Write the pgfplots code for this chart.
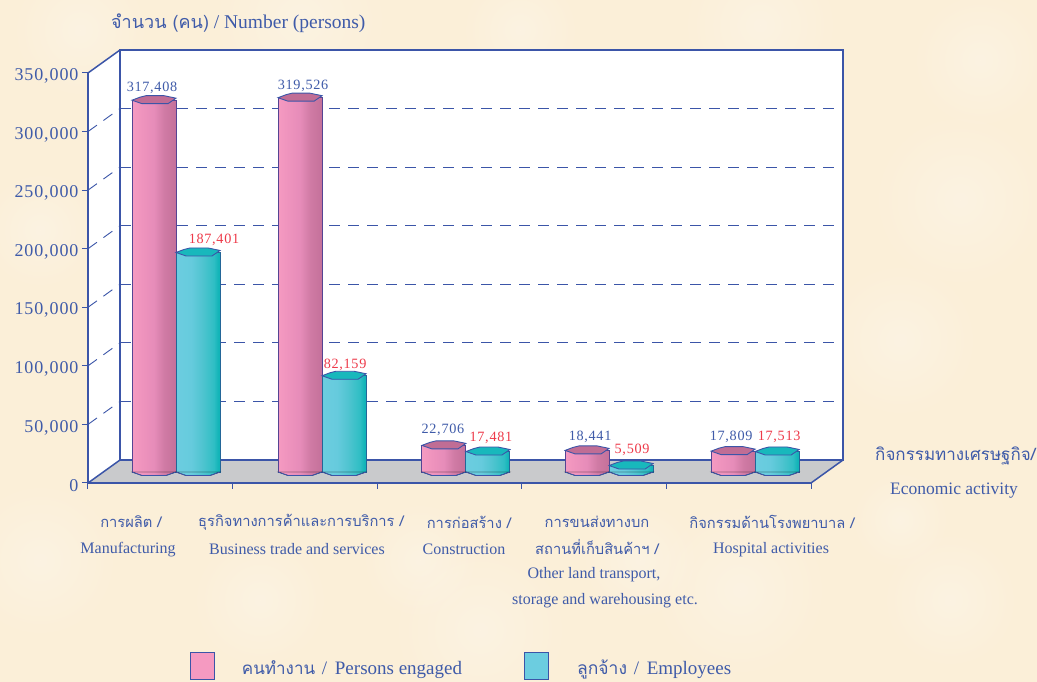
\documentclass[border=0pt]{standalone}
\usepackage{fontspec}
\usepackage{pgfplots}
\usepackage{pgfplotstable}
\pgfplotsset{compat=1.18}
\usetikzlibrary{fadings}
\setmainfont{Liberation Serif}
\newfontfamily\thaifont[Script=Thai]{Loma}
\newfontfamily\numfont[LetterSpace=5]{Liberation Serif}
\definecolor{bg}{HTML}{FBEFD8}
\definecolor{ax}{HTML}{3B55A8}
\definecolor{tx}{HTML}{3F5BA9}
\definecolor{rd}{HTML}{EE3A4A}
\definecolor{flr}{HTML}{C9CACC}
\definecolor{pk}{HTML}{F59AC1}
\definecolor{cy}{HTML}{6CCDE0}
\definecolor{pa}{HTML}{F59AC1}
\definecolor{pb}{HTML}{EE93BD}
\definecolor{pc}{HTML}{E68CB9}
\definecolor{pd}{HTML}{CF7AA4}
\definecolor{pe}{HTML}{C4719A}
\definecolor{ca}{HTML}{6CCDE0}
\definecolor{cb}{HTML}{66CBDD}
\definecolor{cc}{HTML}{4FC4D0}
\definecolor{cd}{HTML}{2FBEC4}
\definecolor{ce}{HTML}{12B4B8}
\tikzfading[name=blob,inner color=transparent!0,outer color=transparent!100]
\pgfdeclarehorizontalshading{pinkbar}{100bp}{color(0bp)=(pa);color(25bp)=(pa);color(37bp)=(pb);color(50bp)=(pc);color(62bp)=(pd);color(75bp)=(pe);color(100bp)=(pe)}
\pgfdeclarehorizontalshading{cyanbar}{100bp}{color(0bp)=(ca);color(25bp)=(ca);color(42bp)=(cb);color(55bp)=(cc);color(68bp)=(cd);color(73bp)=(ce);color(75bp)=(ce);color(100bp)=(ce)}
\pgfdeclareplotmark{pinktop}{%
  \path[fill={rgb,255:red,192;green,109;blue,149},draw=ax,line width=.9pt] (-44pt,0pt)--(-36pt,3pt)--(-30pt,4.5pt)--(-12pt,4.5pt)--(0pt,2pt)--(-8pt,-3.5pt)--(-34pt,-3.5pt)--cycle;}
\pgfdeclareplotmark{cyantop}{%
  \path[fill={rgb,255:red,24;green,184;blue,188},draw=ax,line width=.9pt] (0pt,0pt)--(8pt,3pt)--(14pt,4.5pt)--(32pt,4.5pt)--(44pt,2pt)--(36pt,-3.5pt)--(10pt,-3.5pt)--cycle;}
\pgfdeclareplotmark{pinkbot}{%
  \path[shading=pinkbar] (-44pt,0pt)--(-34pt,-3.5pt)--(-10pt,-3.5pt)--(0pt,0pt)--cycle;
  \draw[ax,line width=.9pt] (-44pt,0pt)--(-34pt,-3.5pt)--(-10pt,-3.5pt)--(0pt,0pt);}
\pgfdeclareplotmark{cyanbot}{%
  \path[shading=cyanbar] (0pt,0pt)--(10pt,-3.5pt)--(34pt,-3.5pt)--(44pt,0pt)--cycle;
  \draw[ax,line width=.9pt] (0pt,0pt)--(10pt,-3.5pt)--(34pt,-3.5pt)--(44pt,0pt);}
\pgfplotstableread{
x y dx dy
0 317408 -24 12
1.01 319526 -19 12
2.005 22706 -23 16
2.995 18441 -19 14
4.005 17809 -24 14
}\pinktable
\pgfplotstableread{
x y dx dy
0 187401 38 13
1.01 82159 23 11
2.005 17481 25 14
2.995 5509 23 16
4.005 17513 24 15
}\cyantable
\pgfplotsset{
  pinkb/.style={ybar,forget plot,bar width=44pt,bar shift=-22pt,shading=pinkbar,draw=ax!80!purple,line width=.9pt},
  cyanb/.style={ybar,forget plot,bar width=44pt,bar shift=22pt,shading=cyanbar,draw=ax!60!teal,line width=.9pt}}
\newcommand{\lb}[4][16pt]{\node[text=tx,inner sep=0pt,anchor=center,font=\fontsize{#1}{#1}\selectfont] at (#2,#3) {#4};}
\newcommand{\tl}[3]{\node[text=tx,inner sep=0pt,anchor=center,font=\fontsize{14.7pt}{15pt}\selectfont\thaifont] at (#1,#2) {#3};}
\begin{document}
\begin{tikzpicture}
\useasboundingbox (0,0) rectangle (1037pt,682pt);
\fill[bg] (0,0) rectangle (1037pt,682pt);
\begin{scope}[x=1pt,y=-1pt,yshift=682pt]
\foreach \a/\b/\r in {80/30/70,300/20/90,520/30/60,760/25/80,980/60/70,40/230/60,960/200/90,900/340/80,40/560/80,260/600/70,480/630/90,740/590/90,950/600/70,900/520/50,420/560/60,640/560/60}{
  \fill[white,opacity=.25,path fading=blob] (\a,\b) circle (\r);}
% floor and left wall
\fill[flr] (88,483)--(120,460)--(843,460)--(811,483)--cycle;
\fill[white] (88,73)--(120,50)--(120,460)--(88,483)--cycle;
\draw[ax,line width=1.5pt] (88,483)--(120,460);
\draw[ax,line width=1.5pt] (811,483)--(843,460);
\draw[ax,line width=1.5pt] (88,73)--(120,50);
\end{scope}
% back wall
\begin{axis}[name=back,at={(120pt,222pt)},anchor=south west,scale only axis,width=723pt,height=410pt,
  xmin=0,xmax=1,ymin=0,ymax=350000,xtick=\empty,ytick={50000,100000,...,300000},yticklabels={},
  scaled y ticks=false,
  major tick length=0pt,ymajorgrids,
  grid style={draw=ax,line width=1.1pt,dash pattern=on 11pt off 8pt},
  axis line style={draw=ax,line width=2pt},
  axis background/.style={fill=white},axis on top=false]
\end{axis}
% front axis with the value scale
\begin{axis}[at={(88pt,199pt)},anchor=south west,scale only axis,width=723pt,height=410pt,
  xmin=0,xmax=5,ymin=0,ymax=350000,clip=false,
  axis x line*=bottom,axis y line*=left,
  axis line style={draw=ax,line width=1.2pt,-},
  xtick={0,1,2,3,4,5},xticklabels={},
  ytick={0,50000,100000,150000,200000,250000,300000,350000},
  tick style={draw=ax,line width=1pt},
  major tick length=6pt,
  tick align=outside,
  scaled y ticks=false,
  yticklabel style={text=tx,yshift=-3pt,font=\fontsize{18pt}{18pt}\selectfont\numfont,
    /pgf/number format/.cd,fixed,1000 sep={,},assume math mode=true},
  ]
\pgfplotsinvokeforeach{50000,100000,150000,200000,250000,300000}{
  \draw[ax,line width=.9pt,dash pattern=on 11pt off 8pt] (axis cs:0,#1)--++(32pt,23pt);
}
\end{axis}
% bars
\begin{axis}[at={(88pt,210pt)},anchor=south west,scale only axis,width=723pt,height=410pt,
  xmin=-0.6086,xmax=4.3914,ymin=0,ymax=350000,clip=false,hide axis,
  /pgf/number format/.cd,fixed,1000 sep={,},assume math mode=true,/pgfplots/.cd,
  legend style={at={(0.141,-0.473)},anchor=west,draw=none,fill=none,inner sep=0pt,outer sep=0pt,
    legend columns=2,font=\fontsize{19pt}{19pt}\selectfont,text=tx,
    /tikz/column 1/.style={column sep=25pt},/tikz/column 2/.style={column sep=60pt},/tikz/column 3/.style={column sep=26pt}},
  legend cell align=left]
\addlegendimage{legend image code/.code={\draw[fill=pk,draw=ax,line width=1pt] (0pt,-11pt) rectangle (24pt,16pt);}}
\addlegendentry{{\thaifont\fontsize{17pt}{17pt}\selectfont คนทำงาน}\hspace{2pt} /\hspace{3pt} Persons engaged}
\addlegendimage{legend image code/.code={\draw[fill=cy,draw=ax,line width=1pt] (0pt,-11pt) rectangle (24pt,16pt);}}
\addlegendentry{{\thaifont\fontsize{17.5pt}{17.5pt}\selectfont ลูกจ้าง}\hspace{2pt} /\hspace{3pt} Employees}
\addplot[pinkb] coordinates {(0,317408)};
\addplot[cyanb] coordinates {(0,187401)};
\addplot[pinkb] coordinates {(1.01,319526)};
\addplot[cyanb] coordinates {(1.01,82159)};
\addplot[pinkb] coordinates {(2.005,22706)};
\addplot[cyanb] coordinates {(2.005,17481)};
\addplot[pinkb] coordinates {(2.995,18441)};
\addplot[cyanb] coordinates {(2.995,5509)};
\addplot[pinkb] coordinates {(4.005,17809)};
\addplot[cyanb] coordinates {(4.005,17513)};
\addplot[forget plot,only marks,mark=pinkbot] table[x=x,y expr=0]{\pinktable};
\addplot[forget plot,only marks,mark=cyanbot] table[x=x,y expr=0]{\cyantable};
\addplot[forget plot,only marks,mark=pinktop,point meta=y,
  visualization depends on={\thisrow{dx}\as\dx},visualization depends on={\thisrow{dy}\as\dy},
  nodes near coords,
  every node near coord/.style={anchor=center,inner sep=0pt,xshift=\dx pt,yshift=\dy pt,text=tx,font=\fontsize{14.2pt}{14.2pt}\selectfont\numfont}]
  table[x=x,y=y]{\pinktable};
\addplot[forget plot,only marks,mark=cyantop,point meta=y,
  visualization depends on={\thisrow{dx}\as\dx},visualization depends on={\thisrow{dy}\as\dy},
  nodes near coords,
  every node near coord/.style={anchor=center,inner sep=0pt,xshift=\dx pt,yshift=\dy pt,text=rd,font=\fontsize{14.2pt}{14.2pt}\selectfont\numfont}]
  table[x=x,y=y]{\cyantable};
\end{axis}
\begin{scope}[x=1pt,y=-1pt,yshift=682pt]
\node[text=tx,inner sep=0pt,anchor=west,font=\fontsize{19.5pt}{19.5pt}\selectfont] at (111,23) {{\thaifont\fontsize{18pt}{18pt}\selectfont จำนวน (คน)} / Number (persons)};
\tl{131}{522}{การผลิต /}
\lb{128}{549.5}{Manufacturing}
\tl{301}{522}{ธุรกิจทางการค้าและการบริการ /}
\lb{297}{549.5}{Business trade and services}
\tl{469}{522}{การก่อสร้าง /}
\lb{464}{549.5}{Construction}
\tl{597}{522}{การขนส่งทางบก}
\tl{597}{547}{สถานที่เก็บสินค้าฯ /}
\lb{594}{575}{Other land transport,}
\lb{605}{601}{storage and warehousing etc.}
\tl{772}{522}{กิจกรรมด้านโรงพยาบาล /}
\lb{771}{549.5}{Hospital activities}
\node[text=tx,inner sep=0pt,anchor=east,font=\fontsize{17pt}{17pt}\selectfont\thaifont] at (1036,456) {กิจกรรมทางเศรษฐกิจ/};
\lb[17.5pt]{954}{491}{Economic activity}
\end{scope}
\end{tikzpicture}
\end{document}
